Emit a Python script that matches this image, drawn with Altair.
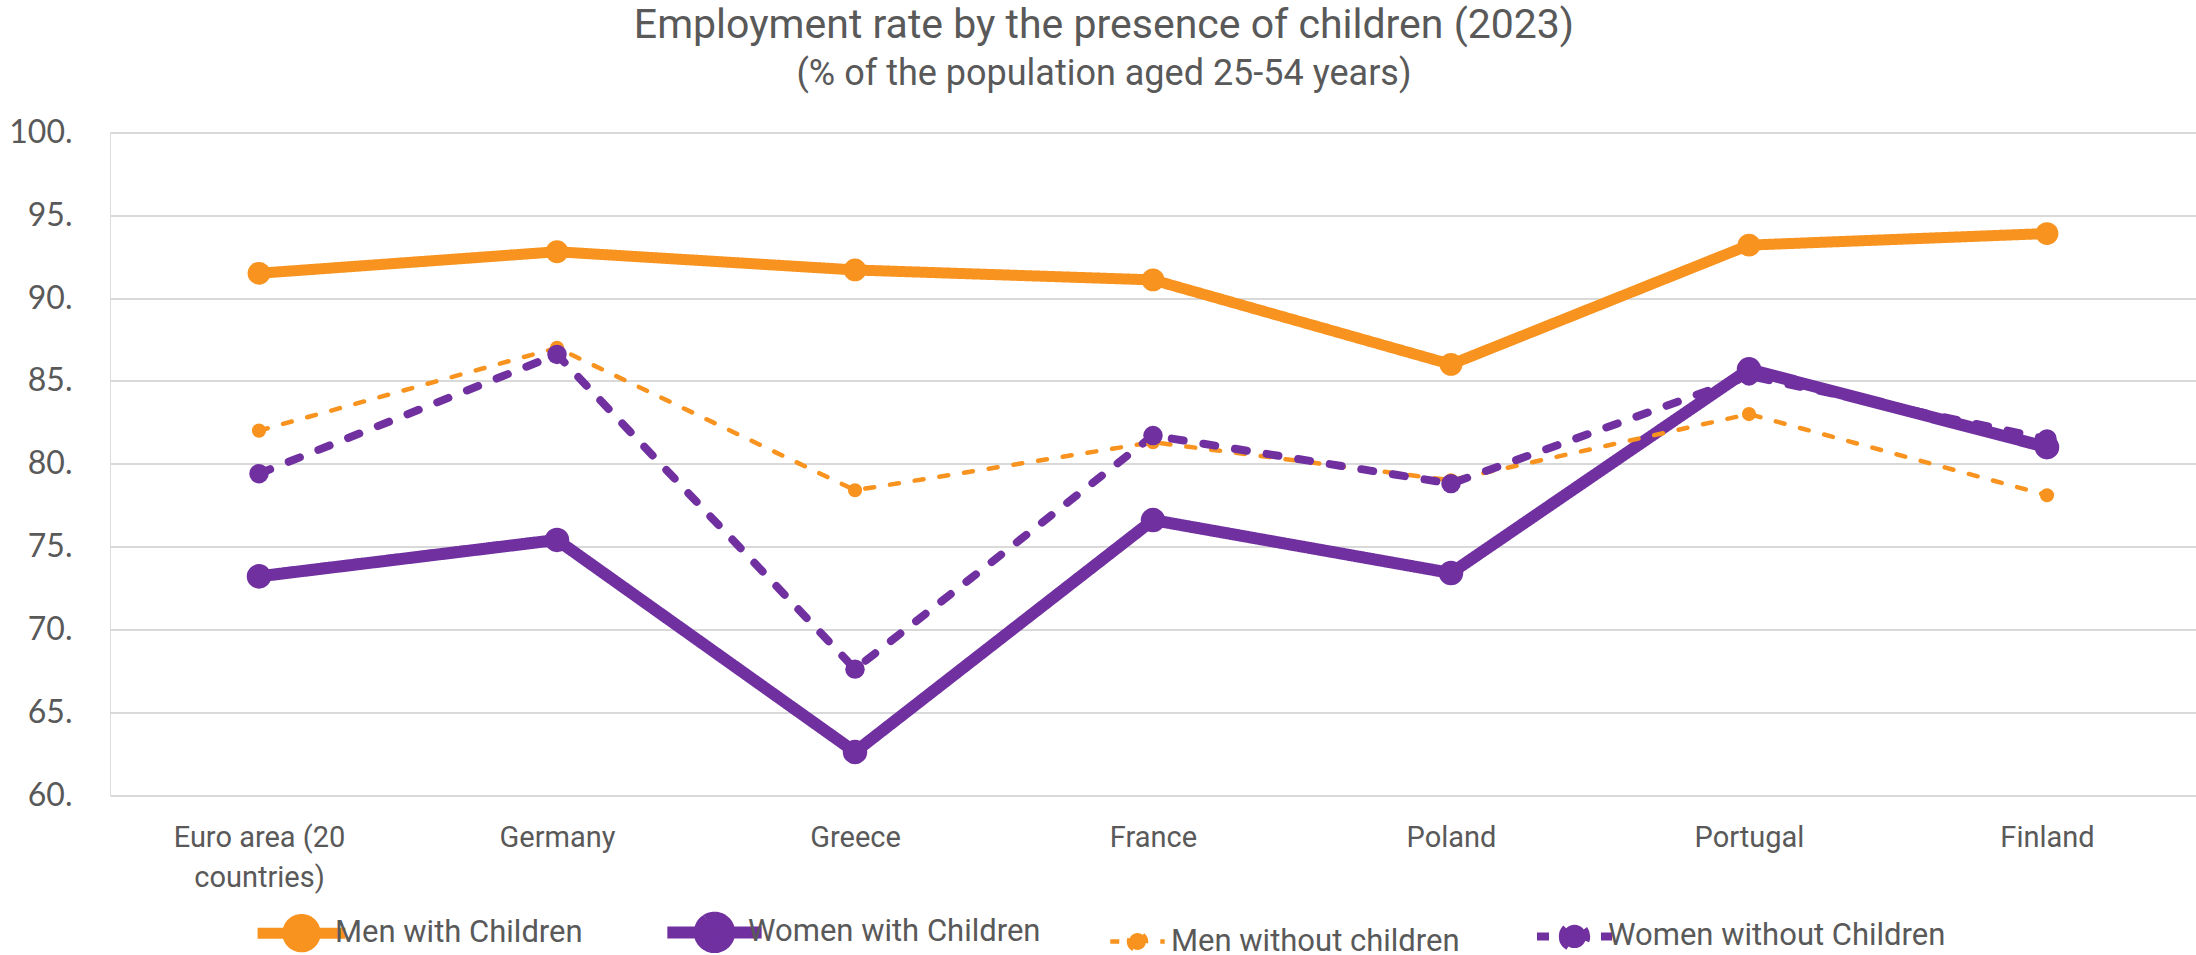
import altair as alt
import pandas as pd

countries = ["Euro area (20 countries)", "Germany", "Greece", "France", "Poland", "Portugal", "Finland"]
series = ["Men with Children", "Women with Children", "Men without children", "Women without Children"]
men_with = [91.5, 92.8, 91.7, 91.1, 86.0, 93.2, 93.9]
women_with = [73.2, 75.4, 62.6, 76.6, 73.4, 85.7, 81.0]
men_without = [82.0, 87.0, 78.4, 81.3, 79.0, 83.0, 78.1]
women_without = [79.4, 86.6, 67.6, 81.7, 78.8, 85.3, 81.5]
y_ticks = [60, 65, 70, 75, 80, 85, 90, 95, 100]

ORANGE = "#F7931E"
PURPLE = "#7030A0"
GREY = "#595959"

rows = []
for s, vals in zip(series, [men_with, women_with, men_without, women_without]):
    for c, v in zip(countries, vals):
        rows.append({"country": c, "series": s, "pt": s, "value": v})
df = pd.DataFrame(rows)

# legend glyph: a line with a dot, drawn at the default symbol size of 100
sym_path = "M-3.85,0H3.85M-1.2,0A1.2,1.2,0,1,0,1.2,0A1.2,1.2,0,1,0,-1.2,0Z"

legend = alt.Legend(
    title=None, orient="none", legendX=173, legendY=781, direction="horizontal",
    columns=4, symbolType=sym_path, symbolSize=100, symbolStrokeWidth=8,
    labelFont="Roboto", labelFontSize=31, labelColor=GREY, columnPadding=60,
    labelOffset=15, labelLimit=400,
)

x_enc = alt.X(
    "country:N", sort=countries, title=None,
    scale=alt.Scale(type="point", padding=0.5),
    axis=alt.Axis(
        labelAngle=0, domain=False, ticks=False, grid=False, labelPadding=28,
        labelFont="Roboto", labelFontSize=29, labelColor=GREY, labelLineHeight=40,
        labelExpr="datum.label == 'Euro area (20 countries)' ? ['Euro area (20', 'countries)'] : datum.label",
    ),
)
y_enc = alt.Y(
    "value:Q", title=None,
    scale=alt.Scale(domain=[60, 100], nice=False, zero=False),
    axis=alt.Axis(
        values=y_ticks, domain=False, ticks=False, grid=True, gridColor="#D9D9D9",
        gridWidth=2, labelPadding=38, labelFont="Lato", labelFontSize=32,
        labelColor=GREY, labelExpr="datum.value + '.'",
    ),
)

color_scale = alt.Scale(domain=series, range=[ORANGE, PURPLE, ORANGE, PURPLE])

lines = alt.Chart(df).mark_line(strokeCap="round", strokeJoin="round").encode(
    x=x_enc,
    y=y_enc,
    color=alt.Color("series:N", scale=color_scale, legend=legend, title=None),
    strokeDash=alt.StrokeDash(
        "series:N", title=None, legend=legend,
        scale=alt.Scale(type="ordinal", domain=series,
                        range=[[1, 0], [1, 0], [9, 16], [12, 20]]),
    ),
    strokeWidth=alt.StrokeWidth(
        "series:N", title=None, legend=None,
        scale=alt.Scale(type="ordinal", domain=series, range=[11, 12, 4.5, 8]),
    ),
)

points = alt.Chart(df).mark_point(filled=True, opacity=1).encode(
    x=x_enc,
    y=y_enc,
    color=alt.Color("pt:N", scale=color_scale, legend=None),
    size=alt.Size("pt:N", legend=None,
                  scale=alt.Scale(type="ordinal", domain=series,
                                  range=[520, 600, 200, 380])),
)

chart = alt.layer(lines, points).properties(
    width=2086,
    height=662.5,
    autosize=alt.AutoSizeParams(type="none"),
    padding={"left": 110, "top": 132.5, "right": 0, "bottom": 160},
    title=alt.TitleParams(
        text="Employment rate by the presence of children (2023)",
        subtitle="(% of the population aged 25-54 years)",
        font="Roboto", fontSize=41, fontWeight="normal", color=GREY,
        subtitleFont="Roboto", subtitleFontSize=36, subtitleColor=GREY,
        anchor="middle", dx=-49, offset=24, subtitlePadding=10,
    ),
).configure_view(stroke=None).configure(background="white")

chart.save("out.html", embed_options={"renderer": "svg", "actions": False})
